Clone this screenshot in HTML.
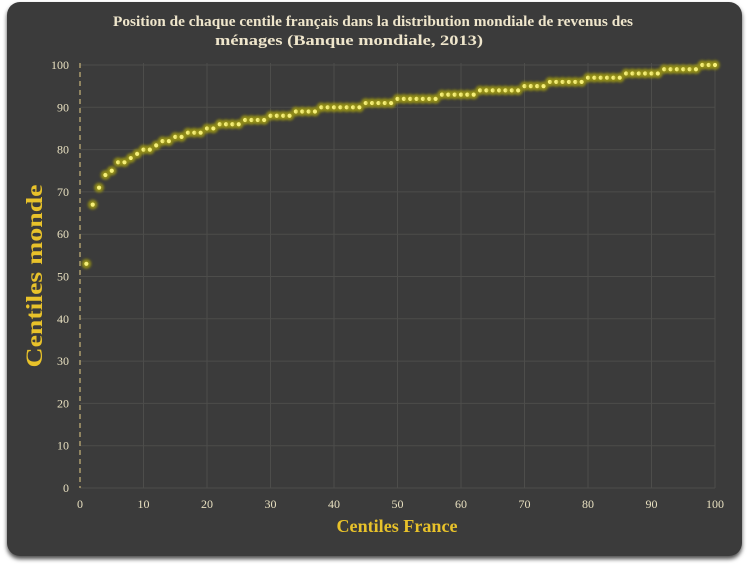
<!DOCTYPE html>
<html><head><meta charset="utf-8"><style>
html,body{margin:0;padding:0;background:#fff;width:754px;height:566px;overflow:hidden}
</style></head><body>
<svg id="s" width="754" height="566" xmlns="http://www.w3.org/2000/svg" font-family="Liberation Serif, serif">
<defs>
<filter id="sh" x="-5%" y="-5%" width="110%" height="112%"><feDropShadow dx="0" dy="3" stdDeviation="2" flood-color="#000" flood-opacity="0.7"/></filter>
<filter id="gl" x="-100%" y="-100%" width="300%" height="300%"><feGaussianBlur stdDeviation="1.3"/></filter>
</defs>
<rect x="7" y="2" width="735" height="554" rx="13" fill="#3b3b3b" filter="url(#sh)"/>
<g id="grid" stroke="#4d4d4b" stroke-width="1"></g>
<line x1="80" y1="63" x2="80" y2="488" stroke="#c8b47a" stroke-width="1.2" stroke-dasharray="5,4"/>
<g id="lab" fill="#e8e0c0" font-size="12"></g>
<text x="373" y="26" fill="#efe6cc" font-size="15" font-weight="bold" text-anchor="middle" textLength="520" lengthAdjust="spacingAndGlyphs">Position de chaque centile français dans la distribution mondiale de revenus des</text>
<text x="349" y="45" fill="#efe6cc" font-size="15" font-weight="bold" text-anchor="middle" textLength="268" lengthAdjust="spacingAndGlyphs">ménages  (Banque mondiale, 2013)</text>
<text x="397" y="532" fill="#e8c22a" font-size="18" font-weight="bold" text-anchor="middle" textLength="121" lengthAdjust="spacingAndGlyphs">Centiles France</text>
<text transform="translate(42,276) rotate(-90)" fill="#e8c22a" font-size="23" font-weight="bold" text-anchor="middle" textLength="183" lengthAdjust="spacingAndGlyphs">Centiles monde</text>
<g id="dots"></g>
</svg>
<script>
var ns="http://www.w3.org/2000/svg";
function X(v){return 80+v*6.35}function Y(v){return 488-v*4.23}
var g=document.getElementById('grid'),l=document.getElementById('lab'),d=document.getElementById('dots');
function el(p,t,a){var e=document.createElementNS(ns,t);for(var k in a)e.setAttribute(k,a[k]);p.appendChild(e);return e}
for(var i=0;i<=100;i+=10){
 el(g,'line',{x1:80,x2:715,y1:Y(i),y2:Y(i)});
 if(i>0)el(g,'line',{x1:X(i),x2:X(i),y1:63,y2:488});
 var t=el(l,'text',{x:69,y:Y(i)+4,'text-anchor':'end'});t.textContent=i;
 t=el(l,'text',{x:X(i),y:508,'text-anchor':'middle'});t.textContent=i;
}
var v=[53,67,71,74,75,77,77,78,79,80,80,81,82,82,83,83,84,84,84,85,85,86,86,86,86];
function add(val,n){for(var k=0;k<n;k++)v.push(val)}
add(87,4);add(88,4);add(89,4);add(90,7);add(91,5);add(92,7);add(93,6);add(94,7);add(95,4);add(96,6);add(97,6);add(98,6);add(99,6);add(100,3);
for(var i=0;i<100;i++){
 var x=X(i+1),y=Y(v[i]);
 el(d,'circle',{cx:x,cy:y,r:4.8,fill:'#9a9412',opacity:0.9,filter:'url(#gl)'});
 el(d,'circle',{cx:x,cy:y,r:2.1,fill:'#f6f07a'});
}
</script>
</body></html>
